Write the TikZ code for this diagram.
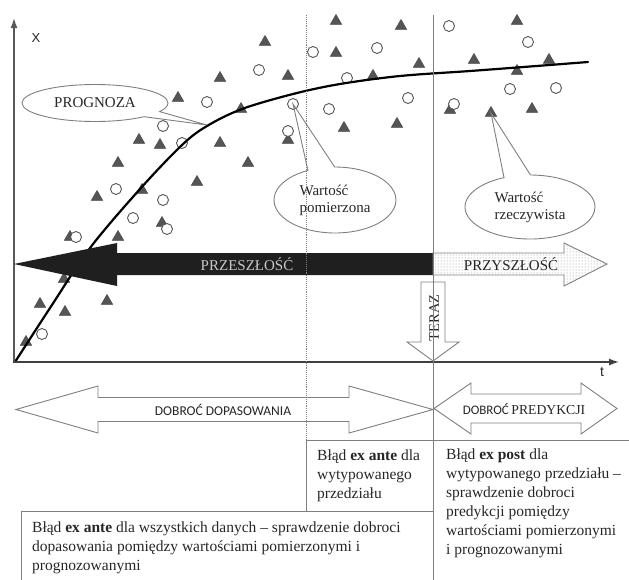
\documentclass[tikz,border=0pt]{standalone}
\usepackage{fontspec}
\setmainfont{Liberation Serif}
\newfontfamily\calibsans{Carlito}
\newfontfamily\axissans{Liberation Sans}
\usepackage{tikz}
\usetikzlibrary{arrows.meta,shapes.geometric,shapes.callouts,patterns}
\definecolor{LineGray}{HTML}{7F7F7F}
\definecolor{MarkGray}{HTML}{555555}
\definecolor{InkGray}{HTML}{262626}
\definecolor{PaleText}{HTML}{C8C8C8}

\begin{document}
\begin{tikzpicture}[x=1pt, y=-1pt, >=Latex]
\tikzset{tri/.style={regular polygon, regular polygon sides=3, fill=MarkGray, draw=MarkGray!80!black, line width=.5pt, minimum size=13pt, inner sep=0pt}, ring/.style={circle, draw=MarkGray, fill=white, line width=.9pt, minimum size=11pt, inner sep=0pt}, block/.style={draw=LineGray, line width=.9pt, line join=miter}, bubble/.style={ellipse callout, draw=LineGray, line width=.9pt, align=left, inner sep=0pt, text=InkGray, font=\fontsize{15}{17}\selectfont}, note/.style={anchor=north west, align=left, inner sep=0pt, text=InkGray, font=\fontsize{15.5}{19}\selectfont}, frame/.style={draw=LineGray, line width=.9pt}, caps/.style={text=InkGray, font=\calibsans\fontsize{13.5}{15}\selectfont}}
\useasboundingbox (0,0) rectangle (629,579);
% measured and real values
\foreach \px/\py [count=\i] in {265/42, 220/78, 288/76, 178/98, 241/109, 139/140, 160/145, 220/143, 118/163, 248/163, 197/182, 97/197, 142/190, 162/223, 288/140, 70/237, 118/237, 64/279, 40/304, 65/312, 107/301, 26/342, 336/21, 401/26, 336/53, 419/64, 373/76, 344/128, 397/124, 517/21, 474/60, 549/60, 517/71, 450/110, 532/109}
  \node[tri] (tri\i) at (\px,\py) {};
\node[tri] (real) at (491,113) {};
\foreach \px/\py [count=\i] in {313/52, 259/70, 207/102, 163/126, 182/143, 288/131, 116/189, 163/200, 133/218, 167/229, 76/237, 42/334, 377/48, 347/78, 329/109, 408/98, 449/26, 528/42, 510/89, 556/88, 454/104}
  \node[ring] (ring\i) at (\px,\py) {};
\node[ring] (meas) at (293,104) {};
% forecast curve
\draw[line width=2.2pt, line cap=round] plot[smooth, tension=.55] coordinates {(15,362) (50,308) (90,248) (140,189) (182,145) (207,126) (242,109) (293,94) (340,84) (400,76) (470,71) (530,66.5) (588,62)};
\coordinate (ontrend) at (207,125);
% axes
\draw[line width=1.4pt, draw=black!65, -{Latex[length=10pt,width=7pt]}] (14,363) -- (14,18);
\draw[line width=1.4pt, draw=black!75, -{Latex[length=10pt,width=7pt]}] (13,362) -- (619,362);
\node[text=InkGray, font=\axissans\fontsize{13}{15}\selectfont] (xlab) at (36,38) {X};
\node[text=InkGray, font=\axissans\fontsize{14}{15}\selectfont] (tlab) at (602,372) {t};
% time arrows
\fill[black!88] (433,253) -- (117,253) -- (117,243) -- (14,264) -- (117,286) -- (117,275) -- (433,275) -- cycle;
\path[block, preaction={fill=white}, pattern=dots, pattern color=black!45] (433,253) -- (564,253) -- (564,243) -- (607,264) -- (564,286) -- (564,275) -- (433,275) -- cycle;
\node[text=PaleText, font=\fontsize{15}{17}\selectfont] (past) at (247,264) {PRZESZŁOŚĆ};
\node[text=InkGray, font=\fontsize{15}{17}\selectfont] (future) at (511,264) {PRZYSZŁOŚĆ};
\filldraw[block, fill=white] (421,282) -- (445,282) -- (445,342) -- (459,342) -- (433,361) -- (407,342) -- (421,342) -- cycle;
\node[rotate=90, text=InkGray, font=\fontsize{14.5}{16}\selectfont] (now) at (434,318) {TERAZ};
% goodness arrows
\filldraw[block, fill=white] (16,409.5) -- (98,386) -- (98,397.5) -- (349,397.5) -- (349,386) -- (433,409.5) -- (349,433) -- (349,421.5) -- (98,421.5) -- (98,433) -- cycle;
\node[caps] (fitgood) at (223,410) {DOBROĆ DOPASOWANIA};
\filldraw[block, fill=white] (434,408.5) -- (471,383) -- (471,394) -- (581,394) -- (581,383) -- (617,408.5) -- (581,434) -- (581,423) -- (471,423) -- (471,434) -- cycle;
\node[text=InkGray] (predgood) at (524,409) {{\calibsans\fontsize{13}{14}\selectfont DOBROĆ} {\fontsize{13.7}{15}\selectfont PREDYKCJI}};
% callouts
\node[bubble, minimum width=146pt, minimum height=37pt, callout absolute pointer={(ontrend)}, callout pointer arc=20] (prognoza) at (95,103) {PROGNOZA};
\node[bubble, minimum width=122pt, minimum height=66pt, callout absolute pointer={(meas.center)}, callout pointer arc=26] (measured) at (335,200) {Wartość\\pomierzona};
\node[bubble, minimum width=130pt, minimum height=64pt, callout absolute pointer={(real.center)}, callout pointer arc=24] (actual) at (530,207) {Wartość\\rzeczywista};
% split lines and boxes
\draw[frame, densely dotted] (306,15) -- (306,440);
\draw[frame] (433,15) -- (433,580);
\draw[frame] (306,440) -- (630,440);
\draw[frame] (306,440) -- (306,511);
\draw[frame] (21,580) -- (21,511) -- (433,511);
\node[note] (exante) at (317,449.5) {Błąd \textbf{ex ante} dla\\wytypowanego\\przedziału};
\node[note] (expost) at (446,448.5) {Błąd \textbf{ex post} dla\\wytypowanego przedziału –\\sprawdzenie dobroci\\predykcji pomiędzy\\wartościami pomierzonymi\\i prognozowanymi};
\node[note] (allfit) at (32,521.5) {Błąd \textbf{ex ante} dla wszystkich danych – sprawdzenie dobroci\\dopasowania pomiędzy wartościami pomierzonymi i\\prognozowanymi};
\end{tikzpicture}
\end{document}
